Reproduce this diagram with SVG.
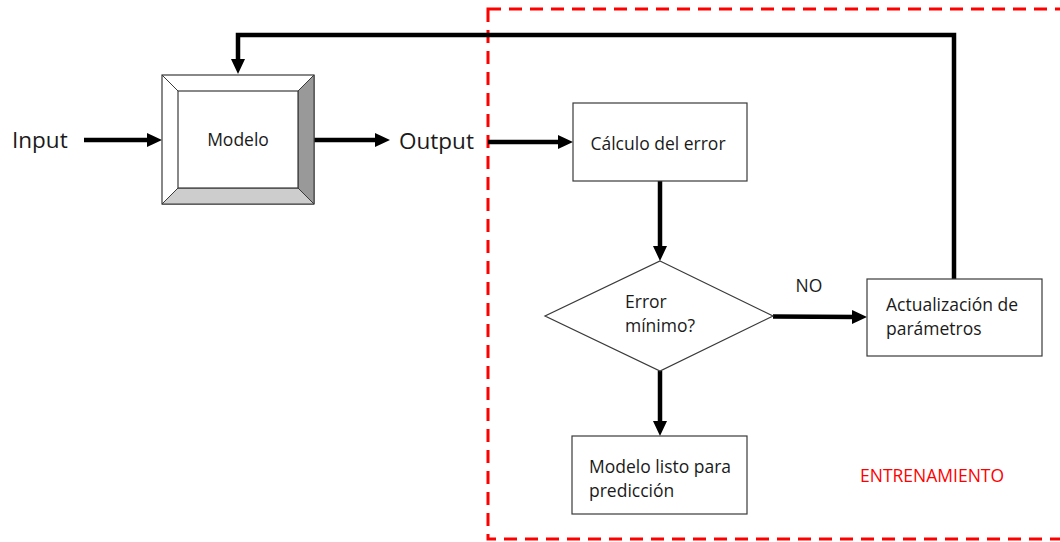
<svg xmlns="http://www.w3.org/2000/svg" width="1060" height="542" viewBox="0 0 1060 542">
<style>
text{font-family:"Open Sans","Liberation Sans",sans-serif;fill:#1a1a1a}
.box{fill:#fff;stroke:#3a3a3a;stroke-width:1.2}
.conn{fill:none;stroke:#000;stroke-width:4.5;stroke-linejoin:miter}
.lbl{font-size:17.5px}
</style>
<defs>
<marker id="ah" markerUnits="userSpaceOnUse" markerWidth="16" markerHeight="14" refX="5" refY="7" orient="auto">
<path d="M0,0 L15,7 L0,14 z" fill="#000"/>
</marker>
</defs>
<rect x="488" y="9" width="600" height="530" fill="none" stroke="#ff0000" stroke-width="3" stroke-dasharray="13 8"/>
<text x="860" y="482" style="font-size:17.5px;fill:#ff0000">ENTRENAMIENTO</text>
<g id="connectors">
<line class="conn" x1="84" y1="140" x2="152" y2="140" marker-end="url(#ah)"/>
<line class="conn" x1="314" y1="140" x2="380" y2="140" marker-end="url(#ah)"/>
<line class="conn" x1="488" y1="142" x2="563" y2="142" marker-end="url(#ah)"/>
<line class="conn" x1="660" y1="181" x2="660" y2="251" marker-end="url(#ah)"/>
<line class="conn" x1="660" y1="371" x2="660" y2="426" marker-end="url(#ah)"/>
<line class="conn" x1="773" y1="316.5" x2="857" y2="317" marker-end="url(#ah)"/>
<polyline class="conn" points="954,279 954,35 238,35 238,64" marker-end="url(#ah)"/>
<text x="809" y="292" text-anchor="middle" class="lbl">NO</text>
</g>
<g id="input"><text x="12" y="148" style="font-size:22.5px">Input</text></g>
<g id="output"><text x="399" y="149" style="font-size:22.5px">Output</text></g>
<g id="modelo">
<rect x="162" y="75" width="152" height="129" fill="#fff" stroke="#3a3a3a" stroke-width="1.2"/>
<polygon points="162,204 314,204 298,188 178,188" fill="#cdcdcd" stroke="#3a3a3a" stroke-width="1"/>
<polygon points="314,75 314,204 298,188 298,91" fill="#999" stroke="#3a3a3a" stroke-width="1"/>
<line x1="162" y1="75" x2="178" y2="91" stroke="#3a3a3a" stroke-width="1"/>
<line x1="314" y1="75" x2="298" y2="91" stroke="#3a3a3a" stroke-width="1"/>
<rect x="178" y="91" width="120" height="97" fill="#fff" stroke="#3a3a3a" stroke-width="1.2"/>
<text x="238" y="146" text-anchor="middle" style="font-size:17.5px">Modelo</text>
</g>
<g id="calculo">
<rect class="box" x="573" y="103" width="174" height="78"/>
<text x="658" y="150" text-anchor="middle" class="lbl">Cálculo del error</text>
</g>
<g id="decision">
<polygon class="box" points="660,261 773,316 660,371 545,316"/>
<text x="625" y="308" class="lbl">Error</text>
<text x="625" y="332" class="lbl">mínimo?</text>
</g>
<g id="actualizacion">
<rect class="box" x="867" y="279" width="175" height="77"/>
<text x="886" y="311" class="lbl">Actualización de</text>
<text x="886" y="335" class="lbl">parámetros</text>
</g>
<g id="listo">
<rect class="box" x="572" y="436" width="175" height="78"/>
<text x="589" y="473" class="lbl">Modelo listo para</text>
<text x="589" y="497" class="lbl">predicción</text>
</g>
</svg>
